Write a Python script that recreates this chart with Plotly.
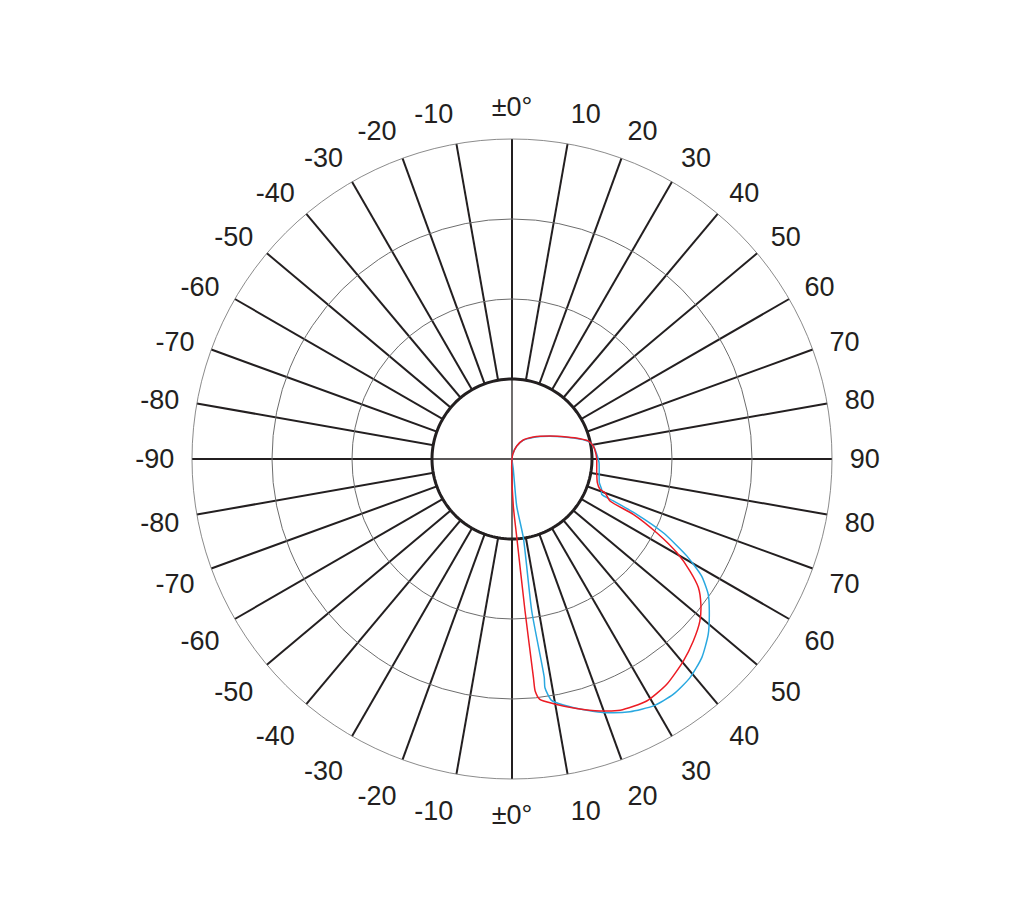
import plotly.graph_objects as go

# Angular tick positions (clockwise from top) and their labels
tick_angles = list(range(0, 360, 10))
tick_labels = (["±0°"] + [str(a) for a in range(10, 100, 10)] + [str(a) for a in range(80, 0, -10)]
               + ["±0°"] + [str(-a) for a in range(10, 100, 10)] + [str(-a) for a in range(80, 0, -10)])

# Red curve: (angle in degrees, intensity)
red_theta = [0, 8.5, 19.9, 30.7, 44.1, 58.8, 68.1, 73.4, 76.7, 80.9, 85.7, 90.2, 99.2, 105.5, 109.0,
             109.9, 113.2, 114.5, 117.0, 119.6, 122.2, 124.6, 127.6, 130.8, 135.1, 139.7, 145.5,
             150.9, 156.7, 160.7, 165.5, 170.4, 173.4, 174.3, 174.4, 175.1, 176.5, 178.4, 181.7, 0]
red_r = [0, 5.9, 17.3, 27.6, 38.3, 55.5, 73.7, 88.7, 98.0, 102.9, 104.9, 105.9, 107.3, 110.7, 116.3,
         123.6, 133.3, 166.6, 203.0, 236.9, 262.9, 283.0, 298.0, 310.2, 321.1, 331.1, 341.6,
         346.2, 341.9, 333.6, 322.0, 310.2, 302.4, 291.4, 274.6, 190.7, 98.6, 58.8, 12.9, 0]

# Blue curve
blue_theta = [0, 8.5, 19.9, 30.7, 44.1, 58.8, 68.1, 73.4, 76.7, 80.9, 85.7, 92.4, 105.2, 108.7,
              111.5, 112.5, 113.9, 116.0, 119.0, 121.7, 124.6, 127.6, 131.8, 136.3, 140.9, 145.6,
              150.2, 155.0, 159.5, 163.4, 168.2, 170.7, 171.8, 171.6, 172.6, 171.8, 174.3, 172.8, 0]
blue_r = [0, 5.6, 16.9, 27.0, 37.6, 54.8, 73.0, 88.0, 97.6, 103.0, 105.6, 108.9, 113.1, 118.3,
          120.5, 137.1, 170.5, 210.4, 249.8, 278.6, 298.0, 311.3, 329.0, 343.4, 352.5, 356.6,
          355.7, 348.6, 338.5, 327.7, 314.1, 305.7, 288.8, 276.0, 191.6, 99.4, 59.0, 13.0, 0]

# Inner disk and centre cross
disk_theta = list(range(0, 361, 2))
disk_r = [100] * len(disk_theta)
cross_v_theta = [0, 0, 180]
cross_v_r = [100, 0, 100]
cross_h_theta = [90, 0, 270]
cross_h_r = [100, 0, 100]

text_color = "#231F20"
font_family = "Arial, Liberation Sans, sans-serif"

fig = go.Figure()
fig.add_trace(go.Scatterpolar(theta=disk_theta, r=disk_r, mode="lines", fill="toself",
                              fillcolor="white", line=dict(color="#231F20", width=3),
                              hoverinfo="skip", showlegend=False))
fig.add_trace(go.Scatterpolar(theta=cross_v_theta, r=cross_v_r, mode="lines",
                              line=dict(color="#231F20", width=1.3), hoverinfo="skip", showlegend=False))
fig.add_trace(go.Scatterpolar(theta=cross_h_theta, r=cross_h_r, mode="lines",
                              line=dict(color="#231F20", width=1.3), hoverinfo="skip", showlegend=False))
fig.add_trace(go.Scatterpolar(theta=blue_theta, r=blue_r, mode="lines", name="blue",
                              line=dict(color="#29A8E0", width=1.5, shape="spline", smoothing=0.6),
                              showlegend=False))
fig.add_trace(go.Scatterpolar(theta=red_theta, r=red_r, mode="lines", name="red",
                              line=dict(color="#EC1C24", width=1.5, shape="spline", smoothing=0.6),
                              showlegend=False))

W, H = 1022, 918
cx, cy, R = 504, 451, 320
fig.update_layout(
    width=W, height=H,
    margin=dict(l=0, r=0, t=0, b=0),
    paper_bgcolor="white",
    showlegend=False,
    polar=dict(
        domain=dict(x=[(cx - R) / W, (cx + R) / W], y=[(H - cy - R) / H, (H - cy + R) / H]),
        bgcolor="white",
        radialaxis=dict(range=[0, 400], tickvals=[100, 200, 300], showticklabels=False,
                        ticks="", showline=False, gridcolor="#6d6d6d", gridwidth=0.8),
        angularaxis=dict(rotation=90, direction="clockwise", tickmode="array",
                         tickvals=tick_angles, ticktext=tick_labels,
                         ticks="outside", ticklen=12, tickcolor="rgba(0,0,0,0)",
                         showline=True, linecolor="#6d6d6d", linewidth=0.8,
                         gridcolor="#231F20", gridwidth=1.9,
                         tickfont=dict(family=font_family, size=27, color=text_color)),
    ),
)

fig.write_html("out.html")
